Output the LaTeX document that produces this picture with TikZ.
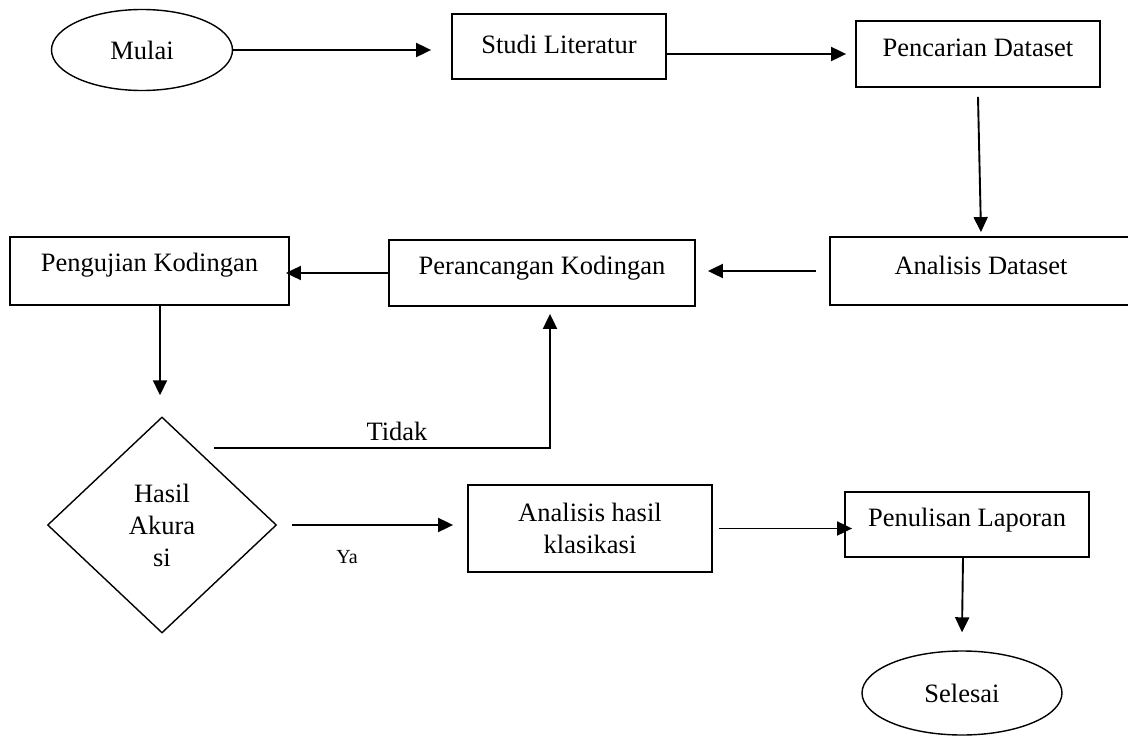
\documentclass[tikz,border=0pt]{standalone}
\usepackage{fontspec}
\setmainfont{Liberation Serif}
\usetikzlibrary{shapes.geometric,arrows.meta}
\begin{document}
\begin{tikzpicture}[x=1pt,y=-1pt,
  every node/.style={font=\fontsize{26.5}{32}\selectfont},
  box/.style={draw, line width=1.8pt, rectangle, inner sep=0pt},
  term/.style={draw, line width=1.4pt, ellipse, inner sep=0pt},
  dec/.style={draw, line width=1.4pt, diamond, inner sep=0pt, align=center},
  arr/.style={line width=1.9pt, -{Triangle[length=15pt,width=14pt]}},
  smalltext/.style={font=\fontsize{20}{24}\selectfont}
]
\fill[white] (0,0) rectangle (1128,736);
\useasboundingbox (0,0) rectangle (1128,736);

\node[term, minimum width=181pt, minimum height=81pt] (mulai) at (142,50) {Mulai};
\node[box, minimum width=214pt, minimum height=65pt, label={[yshift=2.5pt]center:Studi Literatur}] (studi) at (559,46.5) {};
\node[box, minimum width=244pt, minimum height=66pt, label={[yshift=6pt]center:Pencarian Dataset}] (pencarian) at (978,54) {};
\node[box, minimum width=302pt, minimum height=68pt, label={[yshift=6pt]center:Analisis Dataset}] (analisisd) at (981,271) {};
\node[box, minimum width=306pt, minimum height=66pt, label={[yshift=5pt]center:Perancangan Kodingan}] (perancangan) at (542,273) {};
\node[box, minimum width=279pt, minimum height=68pt, label={[yshift=6pt]center:Pengujian Kodingan}] (pengujian) at (149.5,271) {};
\node[dec, minimum width=229pt, minimum height=216pt] (hasil) at (162,525) {Hasil\\Akura\\si};
\node[box, minimum width=244pt, minimum height=87pt, align=center] (analisish) at (590,528.5) {Analisis hasil\\klasikasi};
\node[box, minimum width=244pt, minimum height=65pt, label={[yshift=4.5pt]center:Penulisan Laporan}] (penulisan) at (967,524.5) {};
\node[term, minimum width=200pt, minimum height=84pt] (selesai) at (962,693) {Selesai};
\node (tidak) at (397,431) {Tidak};
\node[smalltext] (ya) at (347,557) {Ya};

\draw[arr] (mulai.east) -- ([xshift=-20pt]studi.west |- mulai.east);
\draw[arr] (studi.east |- pencarian.west) -- ([xshift=-9pt]pencarian.west);
\draw[arr] ([yshift=-9pt]pencarian.south) -- ([yshift=4pt]analisisd.north);
\draw[arr] ([xshift=-13pt]analisisd.west) -- ([xshift=12pt]perancangan.east |- analisisd.west);
\draw[arr] (perancangan.west) -- ([xshift=-4pt]pengujian.east |- perancangan.west);
\draw[arr] ([xshift=10.5pt]pengujian.south) -- ([xshift=-2pt,yshift=21pt]hasil.north);
\draw[arr] ([xshift=52pt,yshift=77pt]hasil.center) -| ([xshift=8pt,yshift=-7pt]perancangan.south);
\draw[arr] ([xshift=15pt]hasil.east) -- ([xshift=-14pt]analisish.west |- hasil.east);
\draw[arr] ([xshift=6pt]analisish.east) -- ([xshift=8pt]penulisan.west |- analisish.east);
\draw[arr] ([xshift=-4pt]penulisan.south) -- ([yshift=18pt]selesai.north);
\end{tikzpicture}
\end{document}
